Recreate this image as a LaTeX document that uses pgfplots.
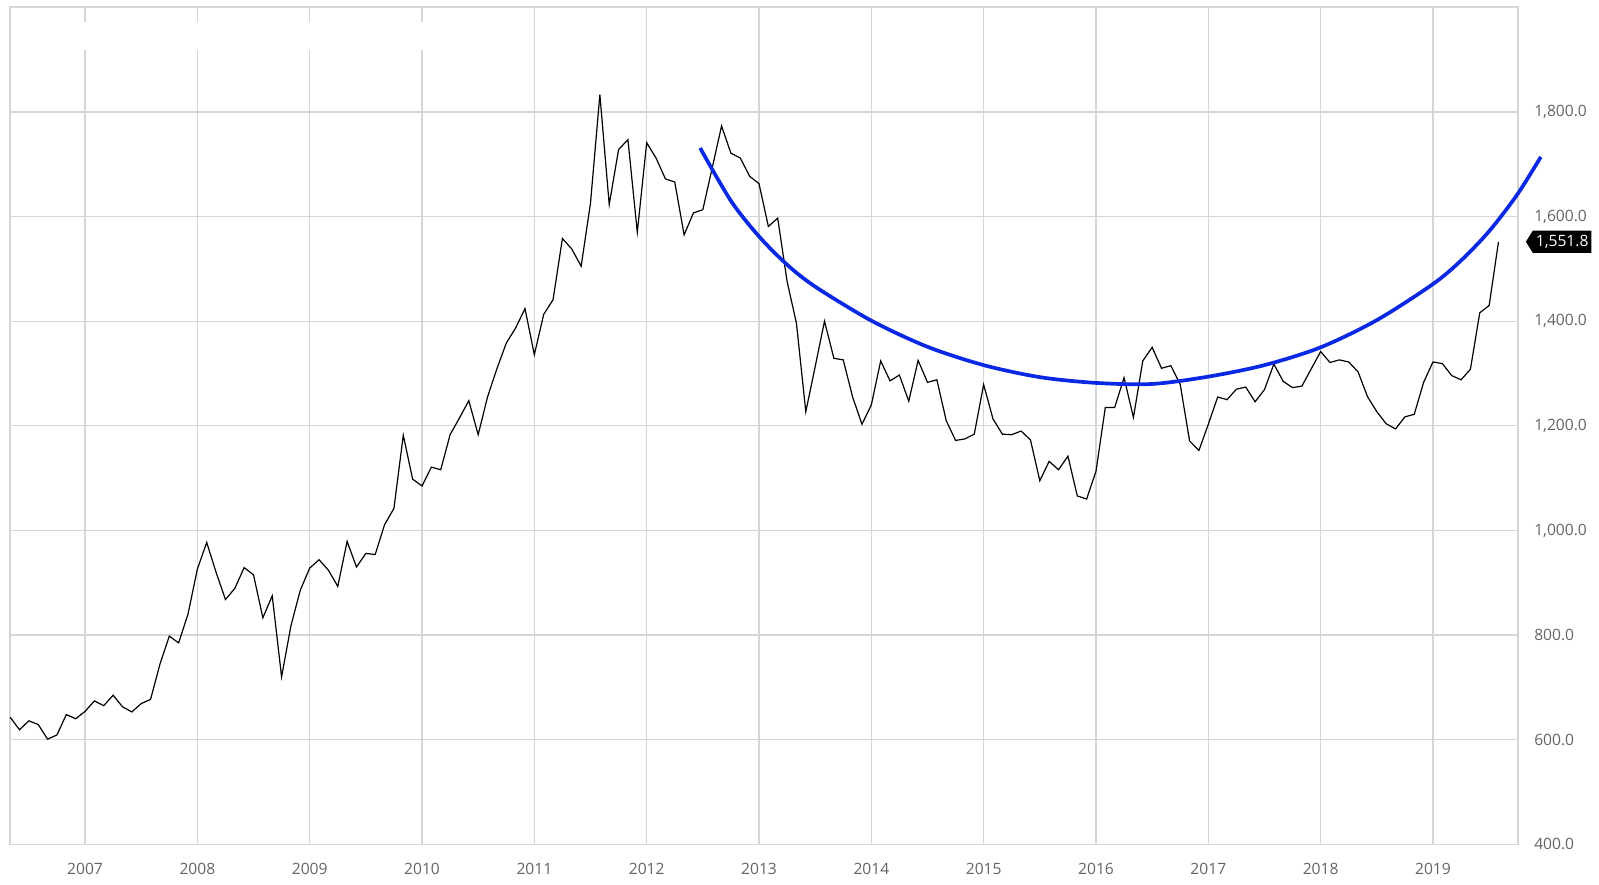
\documentclass[border=0pt]{standalone}
\usepackage{fontspec}
\setmainfont{Open Sans}
\usepackage{pgfplots}
\pgfplotsset{compat=1.18}
\usepackage{pgfplotstable}
\usetikzlibrary{shapes.symbols}
\definecolor{arcblue}{RGB}{8,40,228}
\definecolor{gridc}{RGB}{214,214,214}
\definecolor{lab}{RGB}{100,100,100}

\pgfplotstableread{
i v
1 643
2 619
3 636
4 629
5 601
6 609
7 648
8 640
9 654
10 674
11 665
12 685
13 663
14 653
15 669
16 677
17 744
18 798
19 785
20 840
21 926
22 977
23 920
24 868
25 889
26 929
27 915
28 833
29 875
30 720
31 818
32 886
33 928
34 944
35 924
36 893
37 979
38 930
39 956
40 954
41 1011
42 1042
43 1182
44 1098
45 1085
46 1121
47 1116
48 1183
49 1215
50 1248
51 1183
52 1255
53 1309
54 1358
55 1387
56 1424
57 1336
58 1413
59 1441
60 1558
61 1538
62 1505
63 1626
64 1833
65 1623
66 1728
67 1747
68 1570
69 1741
70 1712
71 1672
72 1666
73 1565
74 1607
75 1613
76 1693
77 1773
78 1721
79 1712
80 1677
81 1663
82 1581
83 1597
84 1476
85 1396
86 1227
87 1313
88 1400
89 1329
90 1326
91 1255
92 1203
93 1240
94 1324
95 1286
96 1297
97 1247
98 1325
99 1283
100 1288
101 1210
102 1172
103 1175
104 1184
105 1279
106 1213
107 1184
108 1183
109 1190
110 1173
111 1095
112 1132
113 1116
114 1142
115 1066
116 1060
117 1113
118 1235
119 1235
120 1292
121 1216
122 1324
123 1350
124 1310
125 1315
126 1279
127 1171
128 1153
129 1203
130 1255
131 1250
132 1270
133 1274
134 1246
135 1269
136 1318
137 1285
138 1273
139 1276
140 1309
141 1342
142 1321
143 1326
144 1322
145 1303
146 1256
147 1227
148 1204
149 1194
150 1217
151 1222
152 1283
153 1322
154 1319
155 1296
156 1288
157 1308
158 1416
159 1430
160 1551.8
}\gold

\begin{document}
\begin{tikzpicture}
\path[use as bounding box] (-5pt,-19.85pt) rectangle (794.5pt,422.15pt);
\begin{axis}[
  at={(0,0)}, anchor=south west,
  scale only axis, width=754pt, height=418.5pt,
  xmin=2006.332, xmax=2019.757, ymin=400, ymax=2000,
  xtick={2007,2008,2009,2010,2011,2012,2013,2014,2015,2016,2017,2018,2019},
  xticklabels={2007,2008,2009,2010,2011,2012,2013,2014,2015,2016,2017,2018,2019},
  ytick={400,600,800,1000,1200,1400,1600,1800},
  yticklabel pos=right,
  yticklabel style={/pgf/number format/fixed, /pgf/number format/fixed zerofill,
    /pgf/number format/precision=1, /pgf/number format/1000 sep={,},
    /pgf/number format/assume math mode=true, xshift=4.6pt},
  major tick length=0pt, tick style={draw=none},
  grid=major, major grid style={gridc, line width=0.6pt},
  axis line style={gridc, line width=0.8pt},
  tick label style={font=\fontsize{7.8}{9}\selectfont, text=lab},
  xticklabel style={yshift=-6pt},
  clip=false,
]
\fill[white] (axis cs:2006.93,1918) rectangle (axis cs:2010.07,1972);
\addplot[black, line width=0.6pt] table[x expr={2006.3333333+(\thisrow{i}-1)/12}, y=v]{\gold};
\addplot[arcblue, line width=1.85pt, smooth, tension=0.5] coordinates {
(2012.476,1731) (2012.75,1630) (2013.0,1562) (2013.25,1508) (2013.5,1466)
(2014.0,1401) (2014.5,1351) (2015.0,1316) (2015.5,1293) (2016.0,1282)
(2016.5,1280) (2017.0,1294) (2017.5,1316) (2018.0,1350) (2018.5,1402)
(2019.0,1471) (2019.25,1516) (2019.5,1572) (2019.75,1642) (2019.96,1714)};
\node[signal, signal to=west, signal pointer angle=116, fill=black, text=white,
  font=\fontsize{7.8}{9}\selectfont, inner xsep=1.5pt, inner ysep=0pt,
  minimum height=11.2pt, minimum width=31.7pt, anchor=west, xshift=3.7pt]
  at (axis cs:2019.757,1551.8) {1,551.8};
\end{axis}
\end{tikzpicture}
\end{document}
